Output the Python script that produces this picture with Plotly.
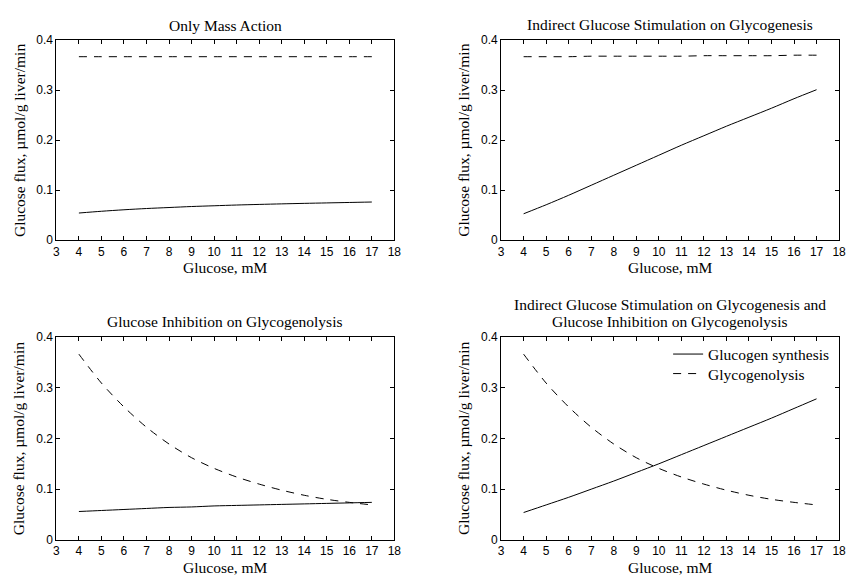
import plotly.graph_objects as go

# ---------------- data ----------------
glucose = [4, 5, 6, 7, 8, 9, 10, 11, 12, 13, 14, 15, 16, 17]

# Panel 1: Only Mass Action
p1_synthesis = [0.0545, 0.058, 0.061, 0.0635, 0.0655, 0.0675, 0.069, 0.0705, 0.0717, 0.0728, 0.0738, 0.0747, 0.0756, 0.0765]
p1_glycogenolysis = [0.367, 0.367, 0.367, 0.367, 0.367, 0.367, 0.367, 0.367, 0.367, 0.367, 0.367, 0.367, 0.367, 0.367]

# Panel 2: Indirect Glucose Stimulation on Glycogenesis
p2_synthesis = [0.053, 0.071, 0.090, 0.110, 0.130, 0.150, 0.170, 0.190, 0.209, 0.228, 0.246, 0.264, 0.283, 0.301]
p2_glycogenolysis = [0.367, 0.367, 0.367, 0.368, 0.368, 0.368, 0.368, 0.368, 0.369, 0.369, 0.369, 0.369, 0.370, 0.370]

# Panel 3: Glucose Inhibition on Glycogenolysis
p3_synthesis = [0.056, 0.058, 0.060, 0.062, 0.064, 0.065, 0.067, 0.068, 0.069, 0.070, 0.071, 0.072, 0.073, 0.074]
p3_glycogenolysis = [0.366, 0.309, 0.262, 0.222, 0.189, 0.162, 0.141, 0.124, 0.110, 0.098, 0.088, 0.080, 0.074, 0.069]

# Panel 4: both
p4_synthesis = [0.054, 0.069, 0.084, 0.100, 0.116, 0.133, 0.150, 0.168, 0.186, 0.204, 0.222, 0.240, 0.259, 0.278]
p4_glycogenolysis = [0.366, 0.309, 0.262, 0.222, 0.189, 0.162, 0.141, 0.124, 0.110, 0.098, 0.088, 0.080, 0.074, 0.069]

panel_titles = [
    ["Only Mass Action"],
    ["Indirect Glucose Stimulation on Glycogenesis"],
    ["Glucose Inhibition on Glycogenolysis"],
    ["Indirect Glucose Stimulation on Glycogenesis and", "Glucose Inhibition on Glycogenolysis"],
]
series_names = ["Glucogen synthesis", "Glycogenolysis"]
x_title = "Glucose, mM"
y_title = "Glucose flux, \u00b5mol/g liver/min"
x_ticks = list(range(3, 19))
y_ticks = [0, 0.1, 0.2, 0.3, 0.4]
y_ticktext = ["0", "0.1", "0.2", "0.3", "0.4"]

# ---------------- layout geometry ----------------
W, H = 853, 585
panels = [
    dict(x0=54, x1=396, y0=34, y1=239, syn=p1_synthesis, gly=p1_glycogenolysis, ty=[19]),
    dict(x0=504, x1=846, y0=34, y1=239, syn=p2_synthesis, gly=p2_glycogenolysis, ty=[18]),
    dict(x0=54, x1=396, y0=338, y1=546, syn=p3_synthesis, gly=p3_glycogenolysis, ty=[322]),
    dict(x0=504, x1=846, y0=338, y1=546, syn=p4_synthesis, gly=p4_glycogenolysis, ty=[305, 322]),
]

SERIF = "Liberation Serif, Times New Roman, serif"
SANS = "Liberation Sans, Arial, sans-serif"
TXT = 15.5

fig = go.Figure()
annotations = []
for i, p in enumerate(panels):
    n = "" if i == 0 else str(i + 1)
    xa, ya = "x" + n, "y" + n
    show = (i == 3)
    fig.add_trace(go.Scatter(x=glucose, y=p["syn"], mode="lines", name=series_names[0],
                             line=dict(color="black", width=1, shape="spline", smoothing=0.8),
                             xaxis=xa, yaxis=ya, showlegend=show, legend="legend"))
    fig.add_trace(go.Scatter(x=glucose, y=p["gly"], mode="lines", name=series_names[1],
                             line=dict(color="black", width=1, dash="8px,7px", shape="spline", smoothing=0.8),
                             xaxis=xa, yaxis=ya, showlegend=show, legend="legend2"))
    axcommon = dict(showline=True, linecolor="black", linewidth=1, mirror="ticks",
                    ticks="inside", ticklen=4, tickcolor="black", tickwidth=1,
                    showgrid=False, zeroline=False,
                    tickfont=dict(family=SANS, size=12, color="black"))
    fig.layout["xaxis" + n] = dict(domain=[p["x0"] / W, p["x1"] / W], range=[3, 18],
                                   tickvals=x_ticks, anchor=ya, **axcommon)
    fig.layout["yaxis" + n] = dict(domain=[1 - p["y1"] / H, 1 - p["y0"] / H], range=[0, 0.4],
                                   tickvals=y_ticks, ticktext=y_ticktext, anchor=xa, **axcommon)
    # titles
    for line, ty in zip(panel_titles[i], p["ty"]):
        annotations.append(dict(text=line, x=(p["x0"] + p["x1"]) / 2 / W, y=1 - ty / H,
                                xref="paper", yref="paper", xanchor="center", yanchor="middle",
                                showarrow=False, font=dict(family=SERIF, size=TXT, color="black")))
    # x axis title
    annotations.append(dict(text=x_title, x=(p["x0"] + p["x1"]) / 2 / W, y=1 - (p["y1"] + 28) / H,
                            xref="paper", yref="paper", xanchor="center", yanchor="middle",
                            showarrow=False, font=dict(family=SERIF, size=TXT, color="black")))
    # y axis title
    annotations.append(dict(text=y_title, x=(p["x0"] - 38) / W, y=1 - (p["y0"] + p["y1"]) / 2 / H,
                            xref="paper", yref="paper", xanchor="center", yanchor="middle",
                            textangle=-90, showarrow=False,
                            font=dict(family=SERIF, size=TXT, color="black")))

legend_common = dict(xanchor="left", yanchor="middle", bgcolor="rgba(0,0,0,0)", borderwidth=0,
                     font=dict(family=SERIF, size=TXT, color="black"))
fig.update_layout(
    width=W, height=H, margin=dict(l=0, r=0, t=0, b=0),
    paper_bgcolor="white", plot_bgcolor="white",
    annotations=annotations,
    legend=dict(x=673 / W, y=1 - 356 / H, **legend_common),
    legend2=dict(x=673 / W, y=1 - 376 / H, **legend_common),
)

fig.write_html("out.html")
